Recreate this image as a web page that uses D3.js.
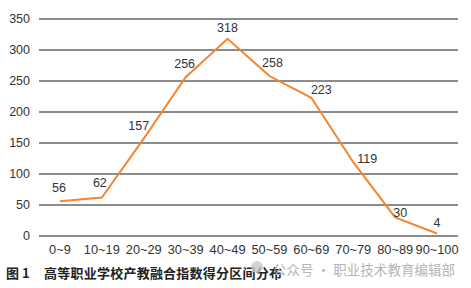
<!DOCTYPE html>
<html><head><meta charset="utf-8">
<script src="https://cdn.jsdelivr.net/npm/d3@7"></script>
<style>
html,body{margin:0;padding:0;background:#fff;}
svg{display:block;font-family:"Liberation Sans",Arial,sans-serif;}
</style></head>
<body>
<svg id="c" width="471" height="288"></svg>
<script>
const categories = ["0~9","10~19","20~29","30~39","40~49","50~59","60~69","70~79","80~89","90~100"];
const values = [56, 62, 157, 256, 318, 258, 223, 119, 30, 4];
const yTicks = [0, 50, 100, 150, 200, 250, 300, 350];
// label offsets relative to point (dx, dy)
const labelDx = [-1, -2, -5, -1, 0, 3, 10, 14, 5, 0];
const labelDy = [-14, -15, -13, -14, -11, -13, -8, -4, -5, -11];

const svg = d3.select("#c");
const x = d3.scaleBand().domain(categories).range([39, 458]);
const y = d3.scaleLinear().domain([0, 350]).range([236, 19]);

svg.append("g").selectAll("line").data(yTicks).join("line")
  .attr("x1", 39).attr("x2", 458)
  .attr("y1", d => y(d)).attr("y2", d => y(d))
  .attr("stroke", "#1a1a1a").attr("stroke-width", 1.2);

svg.append("g").selectAll("text").data(yTicks).join("text")
  .attr("x", 30).attr("y", d => y(d)).attr("dy", "0.35em")
  .attr("text-anchor", "end").attr("font-size", 12.5).attr("fill", "#333")
  .text(d => d);

svg.append("g").selectAll("text").data(categories).join("text")
  .attr("x", d => x(d) + x.bandwidth() / 2).attr("y", 250).attr("dy", "0.35em")
  .attr("text-anchor", "middle").attr("font-size", 12.8).attr("fill", "#333")
  .text(d => d);

const line = d3.line().x((d, i) => x(categories[i]) + x.bandwidth() / 2).y(d => y(d));
svg.append("path").datum(values).attr("d", line)
  .attr("fill", "none").attr("stroke", "#F5852F").attr("stroke-width", 2);

svg.append("g").selectAll("text").data(values).join("text")
  .attr("x", (d, i) => x(categories[i]) + x.bandwidth() / 2 + labelDx[i])
  .attr("y", (d, i) => y(d) + labelDy[i]).attr("dy", "0.35em")
  .attr("text-anchor", "middle").attr("font-size", 12.5).attr("fill", "#333")
  .text(d => d);

svg.append("text").attr("x", 6).attr("y", 273).attr("dy", "0.35em")
  .attr("font-family", "'Noto Sans CJK SC',sans-serif").attr("font-size", 13)
  .attr("font-weight", "bold").attr("fill", "#222")
  .text("图 1");
svg.append("text").attr("x", 44).attr("y", 273).attr("dy", "0.35em")
  .attr("font-family", "'Noto Sans CJK SC',sans-serif").attr("font-size", 13)
  .attr("font-weight", "bold").attr("fill", "#222")
  .attr("textLength", 238).attr("lengthAdjust", "spacing")
  .text("高等职业学校产教融合指数得分区间分布");

svg.append("circle").attr("cx", 257).attr("cy", 267).attr("r", 6).attr("fill", "#c8c8c8").attr("opacity", 0.8);
svg.append("text").attr("x", 273).attr("y", 270).attr("dy", "0.35em")
  .attr("font-family", "'Noto Sans CJK SC',sans-serif").attr("font-size", 13.5)
  .attr("fill", "#b5b5b5")
  .attr("textLength", 182).attr("lengthAdjust", "spacing")
  .text("公众号 · 职业技术教育编辑部");
</script>
</body></html>
